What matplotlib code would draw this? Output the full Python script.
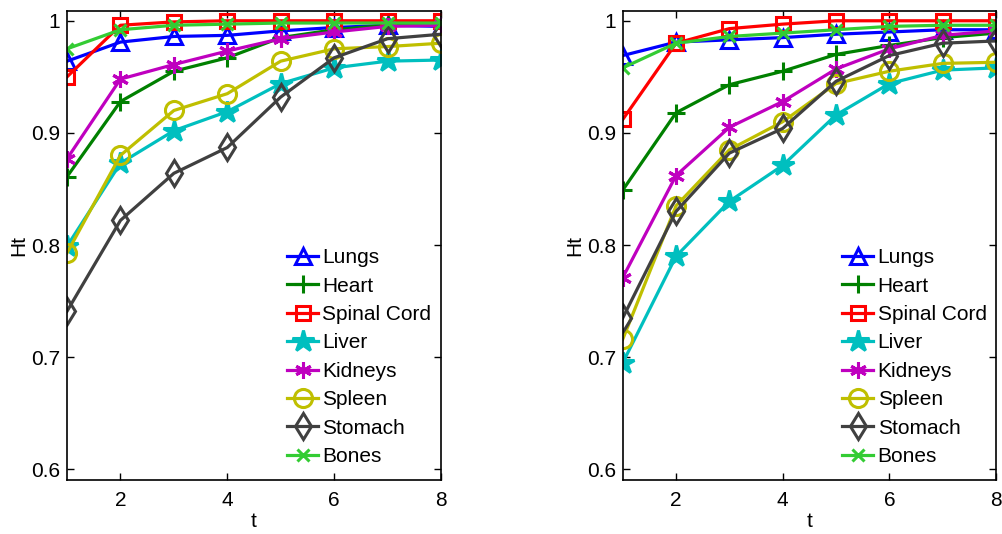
import numpy as np
import matplotlib
matplotlib.use("Agg")
import matplotlib.pyplot as plt

plt.rcParams.update({"font.family": ["Liberation Sans", "DejaVu Sans"], "font.size": 15})

t = [1, 2, 3, 4, 5, 6, 7, 8]
organs = ["Lungs", "Heart", "Spinal Cord", "Liver", "Kidneys", "Spleen", "Stomach", "Bones"]

# left panel
left_lungs = [0.964, 0.981, 0.986, 0.987, 0.991, 0.994, 0.996, 0.995]
left_heart = [0.861, 0.928, 0.955, 0.967, 0.985, 0.992, 0.996, 0.997]
left_spinal = [0.950, 0.996, 0.999, 1.000, 1.000, 1.000, 1.000, 1.000]
left_liver = [0.799, 0.873, 0.902, 0.919, 0.944, 0.958, 0.964, 0.965]
left_kidneys = [0.877, 0.948, 0.961, 0.973, 0.984, 0.990, 0.995, 0.996]
left_spleen = [0.793, 0.880, 0.920, 0.935, 0.964, 0.975, 0.977, 0.980]
left_stomach = [0.741, 0.822, 0.864, 0.887, 0.932, 0.967, 0.984, 0.988]
left_bones = [0.975, 0.992, 0.996, 0.997, 0.998, 0.998, 0.998, 0.998]

# right panel
right_lungs = [0.969, 0.981, 0.983, 0.985, 0.988, 0.990, 0.992, 0.992]
right_heart = [0.849, 0.918, 0.943, 0.955, 0.970, 0.978, 0.985, 0.989]
right_spinal = [0.912, 0.980, 0.993, 0.997, 1.000, 1.000, 1.000, 1.000]
right_liver = [0.695, 0.790, 0.839, 0.871, 0.916, 0.944, 0.956, 0.958]
right_kidneys = [0.771, 0.862, 0.905, 0.928, 0.957, 0.975, 0.987, 0.991]
right_spleen = [0.716, 0.835, 0.885, 0.910, 0.944, 0.955, 0.962, 0.963]
right_stomach = [0.735, 0.830, 0.882, 0.904, 0.946, 0.969, 0.980, 0.982]
right_bones = [0.958, 0.980, 0.986, 0.989, 0.992, 0.995, 0.996, 0.996]

left = [left_lungs, left_heart, left_spinal, left_liver, left_kidneys, left_spleen, left_stomach, left_bones]
right = [right_lungs, right_heart, right_spinal, right_liver, right_kidneys, right_spleen, right_stomach, right_bones]

colors = ["#0000ff", "#008000", "#ff0000", "#00bfbf", "#bf00bf", "#bfbf00", "#404040", "#33cc33"]
# marker, size, filled
styles = [("^", 12, False), ("+", 13, True), ("s", 10, False), ("*", 16, True),
          ((6, 2, 0), 12, True), ("o", 13, False), ("d", 13, False), ("x", 9, True)]

fig = plt.figure(figsize=(10.02, 5.34), dpi=100)
ax1 = fig.add_axes([0.0669, 0.1011, 0.3732, 0.8789])
ax2 = fig.add_axes([0.6215, 0.1011, 0.3725, 0.8789])

for ax, data in [(ax1, left), (ax2, right)]:
    for name, y, c, (m, ms, filled) in zip(organs, data, colors, styles):
        ax.plot(t, y, color=c, lw=2.3, marker=m, ms=ms, mew=2.2,
                mfc=c if filled else "none", mec=c, label=name)
    ax.set_xlim(1, 8)
    ax.set_ylim(0.5905, 1.009)
    ax.set_xticks([2, 4, 6, 8])
    ax.set_yticks([0.6, 0.7, 0.8, 0.9, 1.0])
    ax.set_yticklabels(["0.6", "0.7", "0.8", "0.9", "1"])
    ax.tick_params(direction="in", top=True, right=True, length=5, width=1)
    ax.tick_params(axis="x", pad=8)
    ax.tick_params(axis="y", pad=5)
    ax.set_xlabel("t", labelpad=1)
    ax.set_ylabel("Ht", labelpad=2)
    for s in ax.spines.values():
        s.set_linewidth(1.2)
    ax.legend(loc="lower left", bbox_to_anchor=(0.588, 0.030), frameon=False,
              borderpad=0, borderaxespad=0, handlelength=1.5, handletextpad=0.2,
              labelspacing=0.45, markerscale=1.0)

fig.savefig("out.png", dpi=100)
